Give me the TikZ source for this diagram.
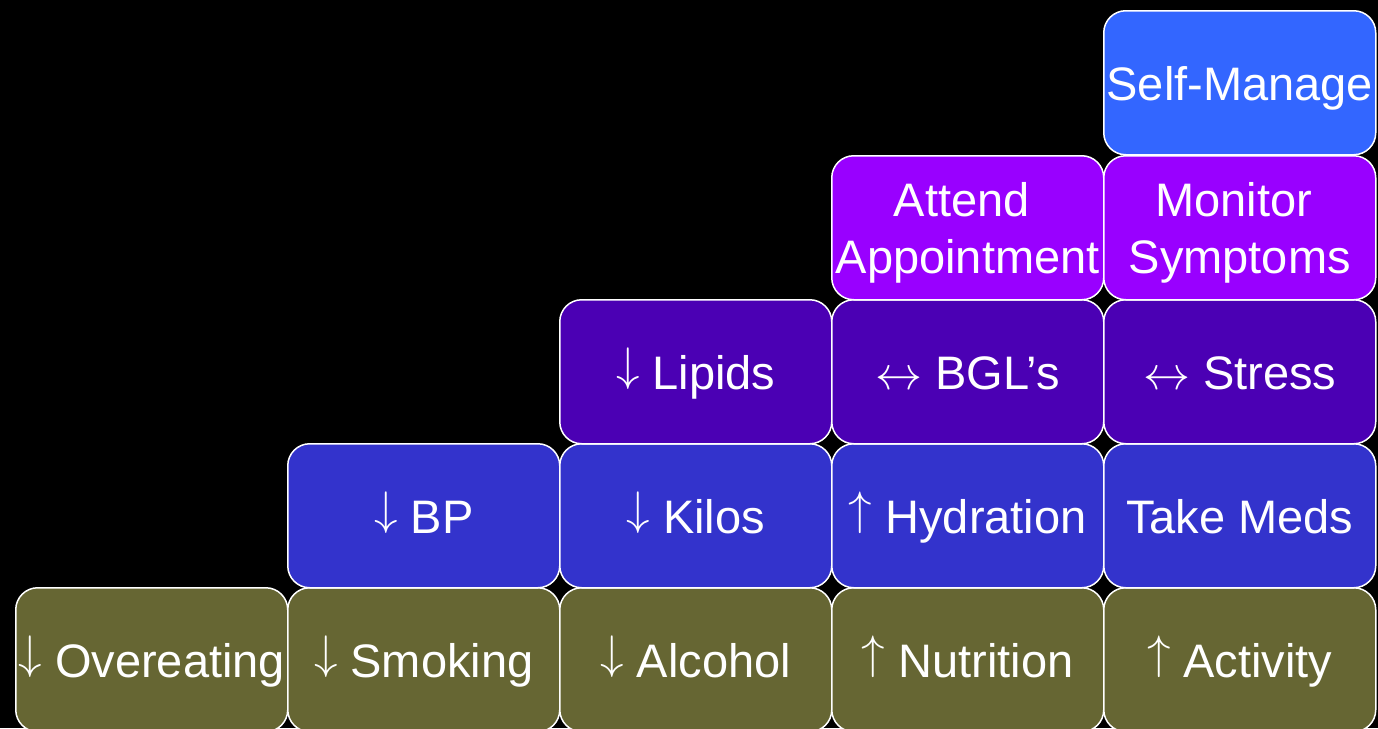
\RequirePackage{fix-cm}
\documentclass[tikz,border=0pt]{standalone}
\usepackage{fontspec}
\setmainfont{Liberation Sans}
\definecolor{olive}{HTML}{666633}
\definecolor{rowblue}{HTML}{3333CC}
\definecolor{rowpurple}{HTML}{4B00B4}
\definecolor{rowmagenta}{HTML}{9900FF}
\definecolor{rowsky}{HTML}{3366FF}
\newcommand{\dn}{\raisebox{9pt}{$\downarrow$}}
\newcommand{\upa}{\raisebox{9pt}{$\uparrow$}}
\newcommand{\lr}{$\leftrightarrow$}
\begin{document}
\begin{tikzpicture}[x=1pt,y=1pt,
  box/.style={draw=white, line width=1.5pt, rounded corners=22pt, anchor=north west,
    minimum width=272pt, minimum height=144pt, inner sep=0pt},
  lbl/.style={anchor=base, inner sep=0pt, text=white, font=\fontsize{47}{58}\selectfont}]
\fill[black] (0,0) rectangle (1378,-728);
\useasboundingbox (0,0) rectangle (1378,-728);
% row 1 (bottom)
\node[box, fill=olive] (over) at (15,-587) {};
\node[box, fill=olive] (smok) at (287,-587) {};
\node[box, fill=olive] (alco) at (559,-587) {};
\node[box, fill=olive] (nutr) at (831,-587) {};
\node[box, fill=olive] (acti) at (1103,-587) {};
% row 2
\node[box, fill=rowblue] (bp) at (287,-443) {};
\node[box, fill=rowblue] (kilo) at (559,-443) {};
\node[box, fill=rowblue] (hydr) at (831,-443) {};
\node[box, fill=rowblue] (meds) at (1103,-443) {};
% row 3
\node[box, fill=rowpurple] (lipi) at (559,-299) {};
\node[box, fill=rowpurple] (bgl) at (831,-299) {};
\node[box, fill=rowpurple] (stre) at (1103,-299) {};
% row 4
\node[box, fill=rowmagenta] (appt) at (831,-155) {};
\node[box, fill=rowmagenta] (moni) at (1103,-155) {};
% row 5
\node[box, fill=rowsky] (self) at (1103,-10) {};
% labels
\node[lbl] (overT) at ([yshift=-18pt]over.center) {\dn\ Overeating};
\node[lbl] (smokT) at ([yshift=-18pt]smok.center) {\dn\ Smoking};
\node[lbl] (alcoT) at ([yshift=-18pt]alco.center) {\dn\ Alcohol};
\node[lbl] (nutrT) at ([yshift=-18pt]nutr.center) {\upa\ Nutrition};
\node[lbl] (actiT) at ([yshift=-18pt]acti.center) {\upa\ Activity};
\node[lbl] (bpT) at ([yshift=-18pt]bp.center) {\dn\ BP};
\node[lbl] (kiloT) at ([yshift=-18pt]kilo.center) {\dn\ Kilos};
\node[lbl] (hydrT) at ([yshift=-18pt]hydr.center) {\upa\ Hydration};
\node[lbl] (medsT) at ([yshift=-18pt]meds.center) {Take Meds};
\node[lbl] (lipiT) at ([yshift=-18pt]lipi.center) {\dn\ Lipids};
\node[lbl] (bglT) at ([yshift=-18pt]bgl.center) {\lr\ BGL’s};
\node[lbl] (streT) at ([yshift=-18pt]stre.center) {\lr\ Stress};
\node[lbl] (apptA) at ([xshift=-6pt,yshift=11pt]appt.center) {Attend};
\node[lbl] (apptB) at ([yshift=-46pt]appt.center) {Appointment};
\node[lbl] (moniA) at ([xshift=-6pt,yshift=11pt]moni.center) {Monitor};
\node[lbl] (moniB) at ([yshift=-46pt]moni.center) {Symptoms};
\node[lbl] (selfT) at ([yshift=-18pt]self.center) {Self-Manage};
\end{tikzpicture}
\end{document}
